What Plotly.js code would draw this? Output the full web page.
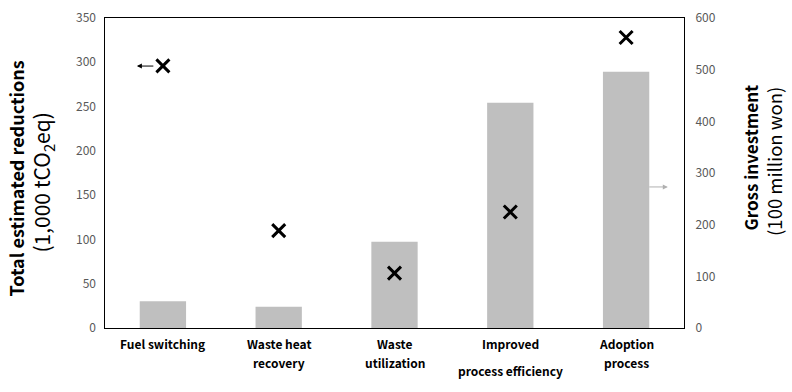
<!DOCTYPE html>
<html>
<head>
<meta charset="utf-8">
<script src="https://cdn.plot.ly/plotly-3.0.1.min.js"></script>
<style>html,body{margin:0;padding:0;background:#fff;}#chart{width:792px;height:392px;}</style>
</head>
<body>
<div id="chart"></div>
<script>
const categories = ['Fuel switching', 'Waste heat recovery', 'Waste utilization', 'Improved process efficiency', 'Adoption process'];
const tickLabelLines = [['Fuel switching'], ['Waste heat', 'recovery'], ['Waste', 'utilization'], ['Improved', 'process efficiency'], ['Adoption', 'process']];
const investment = [52, 41, 167, 436, 496];      // 100 million won (right axis)
const reductions = [296, 110, 62, 131, 328];     // 1,000 tCO2eq (left axis)

const FONT = '"Noto Sans CJK KR", "Noto Sans", sans-serif';

const traces = [
  {
    type: 'bar', x: categories, y: investment, yaxis: 'y',
    marker: {color: '#bfbfbf'}, hoverinfo: 'skip', showlegend: false
  },
  {
    type: 'scatter', mode: 'markers', x: categories, y: reductions, yaxis: 'y2',
    marker: {symbol: 'x-thin', size: 13, color: '#000', line: {color: '#000', width: 3}},
    showlegend: false
  }
];

const annotations = [];
tickLabelLines.forEach((lines, i) => {
  lines.forEach((ln, j) => {
    let shift = -15 - j * 19;
    if (lines.length === 2 && ln === 'process efficiency') shift = -15 - 27;
    annotations.push({
      xref: 'x', yref: 'paper', x: categories[i], y: 0, yshift: shift,
      text: '<b>' + ln + '</b>', showarrow: false, xanchor: 'center', yanchor: 'middle',
      font: {family: FONT, size: 12, color: '#000'}
    });
  });
});
// axis titles
annotations.push(
  {xref: 'paper', yref: 'paper', x: -0.1537, y: 0.482, textangle: -90, showarrow: false,
   text: '<b>Total estimated reductions</b>', font: {family: FONT, size: 18, color: '#000'}, xanchor: 'center', yanchor: 'middle'},
  {xref: 'paper', yref: 'paper', x: -0.1088, y: 0.469, textangle: -90, showarrow: false,
   text: '(1,000 tCO<sub>2</sub>eq)', font: {family: FONT, size: 21, color: '#000'}, xanchor: 'center', yanchor: 'middle'},
  {xref: 'paper', yref: 'paper', x: 1.1157, y: 0.55, textangle: -90, showarrow: false,
   text: '<b>Gross investment</b>', font: {family: FONT, size: 17, color: '#000'}, xanchor: 'center', yanchor: 'middle'},
  {xref: 'paper', yref: 'paper', x: 1.1554, y: 0.539, textangle: -90, showarrow: false,
   text: '(100 million won)', font: {family: FONT, size: 18.5, color: '#000'}, xanchor: 'center', yanchor: 'middle'},
  // arrows indicating axis
  {xref: 'paper', yref: 'paper', x: 0.055, y: 0.845, ax: 18, ay: 0, text: '', showarrow: true,
   arrowhead: 2, arrowsize: 1, arrowwidth: 1, arrowcolor: '#000'},
  {xref: 'paper', yref: 'paper', x: 0.972, y: 0.455, ax: -20, ay: 0, text: '', showarrow: true,
   arrowhead: 2, arrowsize: 1, arrowwidth: 1, arrowcolor: '#b0b0b0'}
);

const layout = {
  width: 792, height: 392,
  margin: {l: 105, r: 108, t: 18, b: 64},
  paper_bgcolor: '#fff', plot_bgcolor: '#fff',
  bargap: 0.6,
  xaxis: {
    type: 'category', range: [-0.5, 4.5], showticklabels: false, ticks: '',
    showline: true, mirror: true, linecolor: '#000', linewidth: 1, showgrid: false, zeroline: false, fixedrange: true
  },
  yaxis: {
    side: 'right', range: [0, 600], dtick: 100, ticks: '', showgrid: false, zeroline: false,
    showline: true, mirror: true, linecolor: '#000', linewidth: 1,
    tickfont: {family: FONT, size: 12, color: '#595959'}, ticklabelstandoff: 8
  },
  yaxis2: {
    overlaying: 'y', side: 'left', range: [0, 350], dtick: 50, ticks: '', showgrid: false, zeroline: false,
    showline: false, tickfont: {family: FONT, size: 12, color: '#595959'}, ticklabelstandoff: 8
  },
  annotations: annotations,
  showlegend: false
};

Plotly.newPlot('chart', traces, layout, {displayModeBar: false, staticPlot: true});
</script>
</body>
</html>
